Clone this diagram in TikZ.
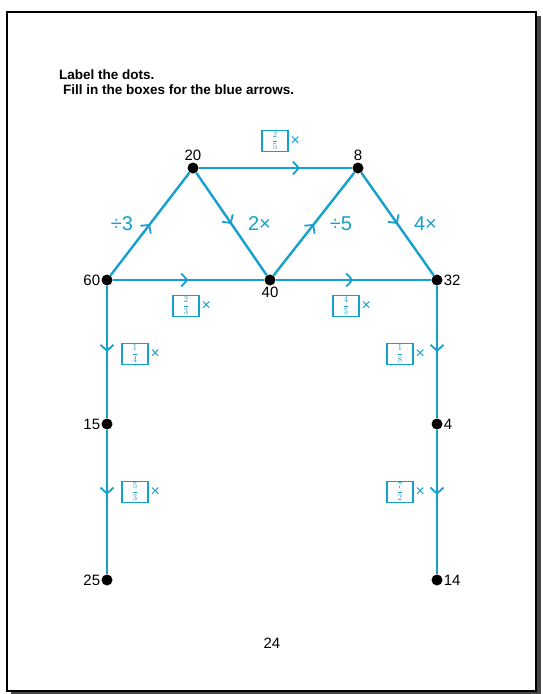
\documentclass[tikz,border=0pt]{standalone}
\usepackage{fontspec}
\setmainfont{Liberation Sans}
\usetikzlibrary{arrows.meta,decorations.markings}
\definecolor{arrowblue}{RGB}{22,160,205}
\definecolor{shadowgray}{RGB}{70,70,70}
\newcommand{\boxfrac}[2]{$\displaystyle\frac{#1}{#2}$}
\tikzset{
  dot/.style={circle,fill=black,inner sep=0pt,minimum size=11pt},
  numlabel/.style={font=\fontsize{15}{17}\selectfont,text=black,inner sep=1pt},
  edge/.style={draw=arrowblue,line width=2.4pt},
  midarrow/.style={postaction={decorate},
    decoration={markings,mark=at position #1 with
      {\arrow[arrowblue,line width=1.8pt]{Straight Barb[length=6pt,width=13pt]}}}},
  midarrow/.default=0.5,
  oplabel/.style={text=arrowblue,font=\fontsize{20}{22}\selectfont,inner sep=1pt},
  fillbox/.style={draw=arrowblue,line width=1.8pt,minimum width=26pt,minimum height=21pt,
    inner sep=0pt,text=arrowblue,font=\fontsize{9.5}{10}\selectfont},
  timesmark/.style={text=arrowblue,font=\fontsize{16}{17}\selectfont,inner sep=1.5pt,anchor=west},
  heading/.style={anchor=west,font=\bfseries\fontsize{13.5}{15}\selectfont,inner sep=0pt}
}
\begin{document}
\begin{tikzpicture}[x=1pt,y=-1pt]
% page size and frame
\useasboundingbox (0,0) rectangle (543,694);
\fill[shadowgray] (11,16) rectangle (541,694);
\draw[fill=white,line width=2pt] (7,12) rectangle (536,691);
% instructions
\node[heading] (title1) at (59,75) {Label the dots.};
\node[heading] (title2) at (63,90) {Fill in the boxes for the blue arrows.};
% dots
\node[dot,label={[numlabel]above:20}] (n20) at (193,168) {};
\node[dot,label={[numlabel]above:8}] (n8) at (358,168) {};
\node[dot,label={[numlabel]left:60}] (n60) at (107,280) {};
\node[dot,label={[numlabel]below:40}] (n40) at (270,280) {};
\node[dot,label={[numlabel]right:32}] (n32) at (437,280) {};
\node[dot,label={[numlabel]left:15}] (n15) at (107,424) {};
\node[dot,label={[numlabel]right:4}] (n4) at (437,424) {};
\node[dot,label={[numlabel]left:25}] (n25) at (107,580) {};
\node[dot,label={[numlabel]right:14}] (n14) at (437,580) {};
% arrows
\draw[edge,midarrow] (n60) -- node[oplabel,xshift=-28pt] {÷3} (n20);
\draw[edge,midarrow=0.66] (n20) -- (n8);
\draw[edge,midarrow] (n20) -- node[oplabel,xshift=28pt] {2×} (n40);
\draw[edge,midarrow] (n40) -- node[oplabel,xshift=27pt] {÷5} (n8);
\draw[edge,midarrow] (n8) -- node[oplabel,xshift=28pt] {4×} (n32);
\draw[edge,midarrow] (n60) -- (n40);
\draw[edge,midarrow] (n40) -- (n32);
\draw[edge,midarrow] (n60) -- (n15);
\draw[edge,midarrow=0.45] (n15) -- (n25);
\draw[edge,midarrow] (n32) -- (n4);
\draw[edge,midarrow=0.45] (n4) -- (n14);
% boxes to fill in
\node[fillbox] (b20-8) at (275,141) {\boxfrac{2}{5}};
\node[timesmark] (x20-8) at (b20-8.east) {×};
\node[fillbox] (b60-40) at (186,306) {\boxfrac{2}{3}};
\node[timesmark] (x60-40) at (b60-40.east) {×};
\node[fillbox] (b40-32) at (346,306) {\boxfrac{4}{5}};
\node[timesmark] (x40-32) at (b40-32.east) {×};
\node[fillbox] (b60-15) at (135,354) {\boxfrac{1}{4}};
\node[timesmark] (x60-15) at (b60-15.east) {×};
\node[fillbox] (b15-25) at (135,492) {\boxfrac{5}{3}};
\node[timesmark] (x15-25) at (b15-25.east) {×};
\node[fillbox] (b32-4) at (400,354) {\boxfrac{1}{8}};
\node[timesmark] (x32-4) at (b32-4.east) {×};
\node[fillbox] (b4-14) at (400,492) {\boxfrac{7}{2}};
\node[timesmark] (x4-14) at (b4-14.east) {×};
% page number
\node[numlabel] (page) at (272,643) {24};
\end{tikzpicture}
\end{document}
